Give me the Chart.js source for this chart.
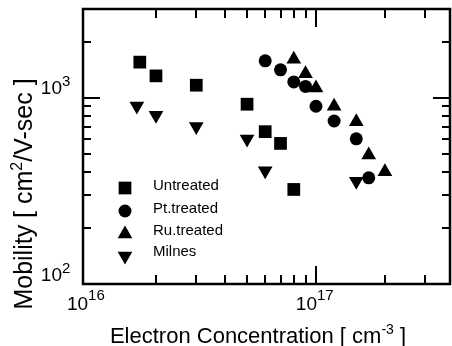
<!DOCTYPE html>
<html>
<head>
<meta charset="utf-8">
<script src="https://cdn.jsdelivr.net/npm/chart.js@4.4.0/dist/chart.umd.min.js"></script>
<style>
  body { margin: 0; background: #fff; }
  canvas { display: block; }
</style>
</head>
<body>
<canvas id="mobilityChart" width="452" height="346"></canvas>
<script>
// data (x: cm^-3, y: cm2/V-sec)
const seriesLabels = ['Untreated', 'Pt.treated', 'Ru.treated', 'Milnes'];

const untreatedX = [1.7e16, 2e16, 3e16, 5e16, 6e16, 7e16, 8e16];
const untreatedY = [1555, 1312, 1169, 924, 658, 569, 322];

const ptX = [6e16, 7e16, 8e16, 9e16, 1e17, 1.2e17, 1.5e17, 1.7e17];
const ptY = [1580, 1413, 1218, 1151, 901, 751, 602, 372];

const ruX = [8e16, 9e16, 1e17, 1.2e17, 1.5e17, 1.7e17, 2e17];
const ruY = [1610, 1347, 1128, 902, 744, 493, 401];

const milnesX = [1.65e16, 2e16, 3e16, 5e16, 6e16, 1.5e17];
const milnesY = [903, 805, 702, 601, 406, 356];

// labelled decades
const xTickValues = [1e16, 1e17];
const yTickValues = [1e2, 1e3];

const xTitle = [['Electron Concentration [ cm', false], ['-3', true], [' ]', false]];
const yTitle = [['Mobility [ cm', false], ['2', true], ['/V-sec ]', false]];

const FONT = 'Arial, "Liberation Sans", sans-serif';

function toPoints(xs, ys) {
    return xs.map((x, i) => ({ x: x, y: ys[i] }));
}

// text with superscript parts, centred on cx
function drawRich(ctx, parts, cx, baseline, size, supSize, raise) {
    let total = 0;
    parts.forEach(p => {
        ctx.font = (p[1] ? supSize : size) + 'px ' + FONT;
        total += ctx.measureText(p[0]).width;
    });
    let x = cx - total / 2;
    ctx.textAlign = 'left';
    ctx.textBaseline = 'alphabetic';
    parts.forEach(p => {
        ctx.font = (p[1] ? supSize : size) + 'px ' + FONT;
        ctx.fillText(p[0], x, p[1] ? baseline - raise : baseline);
        x += ctx.measureText(p[0]).width;
    });
}

function drawPower(ctx, value, x, baseline, size, supSize, raise) {
    const exp = String(Math.round(Math.log10(value)));
    ctx.textBaseline = 'alphabetic';
    ctx.font = size + 'px ' + FONT;
    ctx.textAlign = 'right';
    ctx.fillText('10', x, baseline);
    ctx.font = supSize + 'px ' + FONT;
    ctx.textAlign = 'left';
    ctx.fillText(exp, x, baseline - raise);
}

function logTicks(min, max) {
    const out = [];
    for (let d = Math.floor(Math.log10(min)); d <= Math.ceil(Math.log10(max)); d++) {
        for (let m = 1; m <= 9; m++) {
            const v = m * Math.pow(10, d);
            if (v >= min && v <= max) out.push({ v: v, major: m === 1 });
        }
    }
    return out;
}

const framePlugin = {
    id: 'framePlugin',
    afterDraw(chart) {
        const ctx = chart.ctx;
        const a = chart.chartArea;
        const xs = chart.scales.x;
        const ys = chart.scales.y;
        ctx.save();
        ctx.strokeStyle = '#000';
        ctx.fillStyle = '#000';

        // inward ticks on all four sides
        ctx.lineWidth = 2;
        ctx.beginPath();
        logTicks(xs.min, xs.max).forEach(t => {
            const px = Math.round(xs.getPixelForValue(t.v));
            if (px < a.left + 6 || px > a.right - 6) return;
            const len = t.major ? 18 : 9;
            ctx.moveTo(px, a.bottom); ctx.lineTo(px, a.bottom - len);
            ctx.moveTo(px, a.top); ctx.lineTo(px, a.top + len);
        });
        logTicks(ys.min, ys.max).forEach(t => {
            const py = Math.round(ys.getPixelForValue(t.v));
            if (py < a.top + 6 || py > a.bottom - 6) return;
            const len = t.major ? 17 : 8;
            ctx.moveTo(a.left, py); ctx.lineTo(a.left + len, py);
            ctx.moveTo(a.right, py); ctx.lineTo(a.right - len, py);
        });
        ctx.stroke();

        // frame
        ctx.lineWidth = 2.5;
        ctx.strokeRect(a.left, a.top, a.right - a.left, a.bottom - a.top);

        // tick labels
        xTickValues.forEach(v => {
            drawPower(ctx, v, xs.getPixelForValue(v) + 1, 310, 19, 15, 10);
        });
        yTickValues.forEach(v => {
            drawPower(ctx, v, 62, ys.getPixelForValue(v) - 3.5, 19, 15, 8);
        });

        // axis titles
        drawRich(ctx, xTitle, 258, 343, 22, 14, 9);
        ctx.save();
        ctx.translate(32, 194);
        ctx.rotate(-Math.PI / 2);
        drawRich(ctx, yTitle, 0, 0, 25, 16, 10);
        ctx.restore();

        // legend inside the plot
        const rows = [188, 211, 234, 256];
        const textRows = [186, 208.5, 230.5, 252];
        chart.data.datasets.forEach((ds, i) => {
            Chart.helpers.drawPoint(ctx, {
                pointStyle: ds.pointStyle,
                rotation: ds.rotation || 0,
                radius: ds.pointRadius,
                borderWidth: 0
            }, 125, rows[i]);
            ctx.font = '15px ' + FONT;
            ctx.textAlign = 'left';
            ctx.textBaseline = 'middle';
            ctx.fillText(ds.label, 153, textRows[i]);
        });
        ctx.restore();
    }
};

const ctx = document.getElementById('mobilityChart').getContext('2d');
const mobilityChart = new Chart(ctx, {
    type: 'scatter',
    data: {
        datasets: [
            {
                label: seriesLabels[0],
                data: toPoints(untreatedX, untreatedY),
                pointStyle: 'rect',
                pointRadius: 9,
                backgroundColor: '#000',
                borderColor: '#000',
                borderWidth: 0
            },
            {
                label: seriesLabels[1],
                data: toPoints(ptX, ptY),
                pointStyle: 'circle',
                pointRadius: 6.5,
                backgroundColor: '#000',
                borderColor: '#000',
                borderWidth: 0
            },
            {
                label: seriesLabels[2],
                data: toPoints(ruX, ruY),
                pointStyle: 'triangle',
                pointRadius: 8.5,
                backgroundColor: '#000',
                borderColor: '#000',
                borderWidth: 0
            },
            {
                label: seriesLabels[3],
                data: toPoints(milnesX, milnesY),
                pointStyle: 'triangle',
                rotation: 180,
                pointRadius: 8.5,
                backgroundColor: '#000',
                borderColor: '#000',
                borderWidth: 0
            }
        ]
    },
    options: {
        responsive: false,
        animation: false,
        devicePixelRatio: 1,
        layout: {
            autoPadding: false,
            padding: { left: 83, top: 9, right: 2, bottom: 62 }
        },
        scales: {
            x: { type: 'logarithmic', min: 9.6e15, max: 3.85e17, display: false },
            y: { type: 'logarithmic', min: 100, max: 3000, display: false }
        },
        plugins: {
            legend: { display: false },
            tooltip: { enabled: false }
        }
    },
    plugins: [framePlugin]
});
</script>
</body>
</html>
